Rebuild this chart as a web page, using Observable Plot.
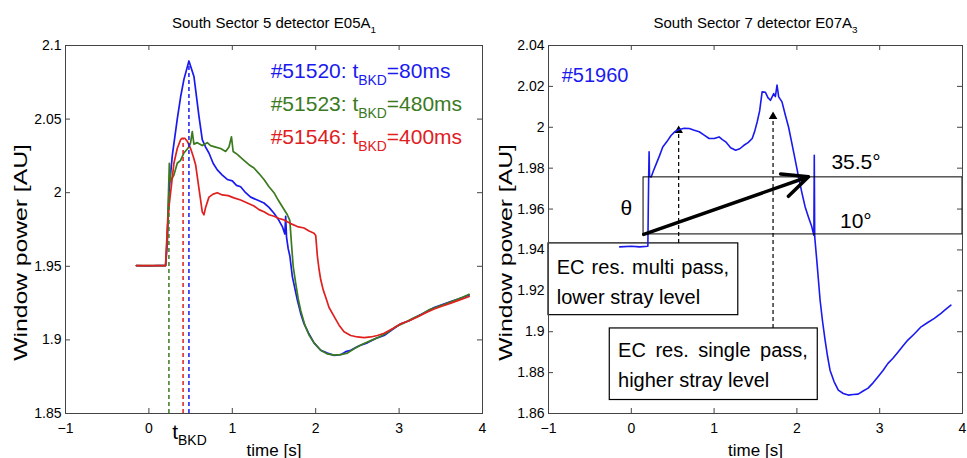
<!DOCTYPE html>
<html><head><meta charset="utf-8">
<script src="https://cdn.jsdelivr.net/npm/d3@7"></script>
<script src="https://cdn.jsdelivr.net/npm/@observablehq/plot@0.6"></script>
<style>
body{margin:0;background:#fff;}
#wrap{display:flex;width:967px;height:458px;overflow:hidden;}
#wrap svg{flex:none;}
</style></head><body><div id="wrap"></div>
<script>
// ---------- data ----------
const xTicks = [-1, 0, 1, 2, 3, 4];
const yTicksL = [1.85, 1.9, 1.95, 2, 2.05, 2.1];
const yTicksR = [1.86, 1.88, 1.9, 1.92, 1.94, 1.96, 1.98, 2, 2.02, 2.04];

const titleL = "South Sector 5 detector E05A_{1}";
const titleR = "South Sector 7 detector E07A_{3}";
const yLabel = "Window power [AU]";
const xLabel = "time [s]";

// #51520 (blue)
const blueT = [-0.15,0.0,0.1,0.2,0.22,0.24,0.28,0.34,0.38,0.42,0.48,0.54,0.60,0.64,0.68,0.72,0.77,0.82,0.88,0.94,1.00,1.05,1.10,1.16,1.22,1.30,1.38,1.44,1.50,1.55,1.60,1.63,1.64,1.65,1.67,1.69,1.72,1.75,1.78,1.82,1.86,1.92,1.98,2.06,2.14,2.22,2.30,2.36,2.42,2.52,2.62,2.72,2.82,2.92,3.02,3.12,3.22,3.32,3.42,3.52,3.62,3.72,3.84];
const blueV = [1.9505,1.9502,1.9505,1.9505,1.965,2.0,2.025,2.05,2.065,2.077,2.0895,2.079,2.052,2.036,2.031,2.027,2.02,2.0155,2.012,2.009,2.008,2.005,2.004,2.0,1.997,1.995,1.993,1.99,1.986,1.982,1.977,1.972,1.984,1.97,1.962,1.957,1.943,1.935,1.927,1.918,1.911,1.904,1.898,1.893,1.891,1.8895,1.89,1.892,1.893,1.896,1.898,1.901,1.903,1.907,1.911,1.913,1.916,1.919,1.922,1.924,1.926,1.928,1.9305];
// #51523 (green)
const greenT = [-0.15,0.2,0.22,0.235,0.245,0.26,0.30,0.34,0.38,0.42,0.48,0.50,0.52,0.54,0.58,0.64,0.70,0.74,0.80,0.86,0.92,0.96,0.99,1.01,1.06,1.14,1.20,1.26,1.32,1.38,1.44,1.50,1.55,1.60,1.66,1.69,1.71,1.73,1.76,1.79,1.82,1.87,1.92,1.98,2.06,2.14,2.22,2.30,2.38,2.46,2.56,2.66,2.76,2.86,2.96,3.06,3.16,3.26,3.36,3.46,3.56,3.66,3.76,3.84];
const greenV = [1.9505,1.9505,1.97,2.0,2.02,2.008,2.012,2.02,2.022,2.027,2.031,2.034,2.0415,2.033,2.034,2.032,2.034,2.032,2.031,2.03,2.028,2.031,2.038,2.028,2.026,2.022,2.019,2.0168,2.013,2.009,2.004,2.0,1.995,1.9905,1.985,1.981,1.965,1.95,1.9386,1.928,1.92,1.91,1.9033,1.898,1.893,1.8905,1.8897,1.89,1.891,1.894,1.897,1.8995,1.902,1.905,1.909,1.9115,1.9145,1.917,1.9205,1.9225,1.9245,1.9268,1.929,1.931];
// #51546 (red)
const redT = [-0.15,0.2,0.22,0.24,0.27,0.30,0.34,0.38,0.40,0.43,0.46,0.50,0.53,0.56,0.60,0.64,0.66,0.68,0.72,0.77,0.82,0.88,0.95,1.02,1.10,1.18,1.26,1.32,1.38,1.44,1.50,1.56,1.62,1.70,1.78,1.86,1.92,1.98,2.0,2.02,2.04,2.06,2.09,2.12,2.16,2.22,2.28,2.34,2.42,2.50,2.58,2.66,2.74,2.82,2.92,3.02,3.12,3.22,3.32,3.42,3.52,3.62,3.72,3.84];
const redV = [1.9505,1.9505,1.975,1.99,2.005,2.02,2.03,2.036,2.037,2.037,2.035,2.03,2.025,2.019,2.003,1.987,1.985,1.99,1.997,1.999,2.0,1.9985,1.998,1.9965,1.995,1.993,1.991,1.9885,1.987,1.985,1.984,1.9825,1.9815,1.979,1.977,1.976,1.974,1.9725,1.971,1.957,1.948,1.941,1.934,1.929,1.922,1.916,1.91,1.9055,1.903,1.902,1.9015,1.902,1.903,1.9045,1.9075,1.911,1.913,1.9155,1.9185,1.921,1.923,1.925,1.927,1.9295];

const legendText = ["#51520: t_{BKD}=80ms", "#51523: t_{BKD}=480ms", "#51546: t_{BKD}=400ms"];
const legendX = [1.46, 1.46, 1.46];
const legendY = [2.0781, 2.0557, 2.0332];

// breakdown times (dashed markers)
const bkdT = [0.24, 0.41, 0.48];
const bkdTop = [2.0, 2.036, 2.088];

// #51960 (right panel)
const r60T = [-0.14,0.0,0.1,0.2,0.205,0.21,0.215,0.22,0.24,0.27,0.30,0.34,0.38,0.43,0.48,0.53,0.58,0.64,0.70,0.76,0.82,0.88,0.94,1.00,1.06,1.10,1.14,1.20,1.26,1.31,1.36,1.41,1.46,1.49,1.52,1.55,1.58,1.62,1.65,1.68,1.72,1.74,1.76,1.78,1.82,1.86,1.90,1.94,1.98,2.02,2.06,2.10,2.14,2.18,2.205,2.21,2.215,2.24,2.28,2.31,2.34,2.37,2.40,2.45,2.50,2.56,2.62,2.68,2.74,2.80,2.86,2.92,2.98,3.04,3.10,3.16,3.22,3.28,3.34,3.42,3.50,3.58,3.66,3.74,3.80,3.86];
const r60V = [1.9415,1.9418,1.9415,1.9418,1.96,1.976,1.988,1.976,1.9757,1.979,1.982,1.986,1.9904,1.993,1.996,1.998,1.9989,1.9995,1.9994,1.9985,1.9978,1.9962,1.9945,1.9945,1.9953,1.994,1.9929,1.99,1.9888,1.9895,1.9912,1.9925,1.9945,1.998,2.0026,2.008,2.0173,2.0171,2.0145,2.0132,2.0165,2.015,2.0206,2.0149,2.0124,2.006,2.0,1.992,1.9839,1.9757,1.968,1.961,1.956,1.9513,1.9472,1.9863,1.9465,1.935,1.9155,1.905,1.896,1.888,1.8812,1.8755,1.8714,1.8698,1.869,1.8693,1.8695,1.871,1.8724,1.875,1.878,1.881,1.8845,1.887,1.89,1.893,1.8959,1.899,1.9024,1.9045,1.9065,1.909,1.911,1.913];

// annotations (right panel)
const boxText = ["EC res. multi pass,\nlower stray level", "EC res. single pass,\nhigher stray level"];
const boxX1 = [-1, -0.26], boxX2 = [1.292, 2.252];
const boxY1 = [1.9081, 1.8666], boxY2 = [1.9432, 1.9016];
const boxTextX = [-0.9, -0.16], boxTextY = [1.9138, 1.8731];
const passT = [0.572, 1.712], passBottom = [1.9432, 1.9016], passTop = [1.9999, 2.0067];
const angleBox = {x1: 0.148, x2: 4, y1: 1.9476, y2: 1.9755};
const angleArrow = {x1: 0.15, y1: 1.9476, x2: 2.14, y2: 1.9758};
const angleLabels = ["35.5°", "10°"], angleLabelX = [2.417, 2.52], angleLabelY = [1.9794, 1.9508];
const thetaLabel = {t: -0.06, v: 1.9604, text: "θ"};
const shotLabel = {t: -0.84, v: 2.0222, text: "#51960"};

// ---------- helpers ----------
const font = "'Liberation Sans', Arial, Helvetica, sans-serif";
const BLUE = "#1a1aef", GREEN = "#3b7a1e", RED = "#e0201e";
const fmt = d => String(+(+d).toFixed(2)).replace("-", "\u2212");
const tbl = (T, V) => T.map((t, i) => ({t, v: V[i]}));
const frameColor = "#444";

function commonMarks(yTicks, fw, fh) {
  return [
    Plot.axisX(xTicks, {tickSize: 0, tickPadding: 10, fontSize: 14, tickFormat: fmt, label: null}),
    Plot.axisY(yTicks, {tickSize: 0, tickPadding: 4, fontSize: 14, tickFormat: fmt, label: null}),
    Plot.ruleX(xTicks.slice(1, -1), {x: d => d, insetTop: fh - 5, stroke: frameColor}),
    Plot.ruleX(xTicks.slice(1, -1), {x: d => d, insetBottom: fh - 5, stroke: frameColor}),
    Plot.ruleY(yTicks.slice(1, -1), {y: d => d, insetRight: fw - 5, stroke: frameColor}),
    Plot.ruleY(yTicks.slice(1, -1), {y: d => d, insetLeft: fw - 5, stroke: frameColor}),
  ];
}

// ---------- left chart ----------
const L = {w: 490, h: 458, ml: 65, mr: 8, mt: 45, mb: 45};
const lfw = L.w - L.ml - L.mr, lfh = L.h - L.mt - L.mb;
const left = Plot.plot({
  width: L.w, height: L.h, marginLeft: L.ml, marginRight: L.mr, marginTop: L.mt, marginBottom: L.mb,
  style: {fontFamily: font, fontSize: "14px", background: "white", color: "black", overflow: "visible"},
  x: {domain: [-1, 4], label: null},
  y: {domain: [1.85, 2.1], label: null},
  marks: [
    ...commonMarks(yTicksL, lfw, lfh),
    Plot.line(tbl(blueT, blueV), {x: "t", y: "v", stroke: BLUE, strokeWidth: 1.7}),
    Plot.line(tbl(greenT, greenV), {x: "t", y: "v", stroke: GREEN, strokeWidth: 1.7}),
    Plot.line(tbl(redT, redV), {x: "t", y: "v", stroke: RED, strokeWidth: 1.7}),
    Plot.ruleX([0], {x: () => bkdT[0], y1: 1.85, y2: () => bkdTop[0], stroke: GREEN, strokeWidth: 1.5, strokeDasharray: "4,3"}),
    Plot.ruleX([0], {x: () => bkdT[1], y1: 1.85, y2: () => bkdTop[1], stroke: RED, strokeWidth: 1.5, strokeDasharray: "4,3"}),
    Plot.ruleX([0], {x: () => bkdT[2], y1: 1.85, y2: () => bkdTop[2], stroke: BLUE, strokeWidth: 1.5, strokeDasharray: "4,3"}),
    Plot.text(legendText, {x: (d, i) => legendX[i], y: (d, i) => legendY[i], text: d => d,
      fill: (d, i) => [BLUE, GREEN, RED][i], textAnchor: "start", lineAnchor: "bottom", fontSize: 21}),
    Plot.text(["t_{BKD}"], {x: () => 0.28, y: () => 1.85, textAnchor: "start", lineAnchor: "bottom", dy: 25, fontSize: 21}),
    Plot.text([titleL], {frameAnchor: "top", dy: -18, lineAnchor: "bottom", fontSize: 15}),
    Plot.text([xLabel], {frameAnchor: "bottom", dy: 42, lineAnchor: "bottom", fontSize: 17}),
    Plot.text([yLabel], {frameAnchor: "left", textAnchor: "middle", rotate: -90, dx: -45, dy: 23, fontSize: 19}),
    Plot.frame({stroke: frameColor})
  ]
});

// ---------- right chart ----------
const R = {w: 477, h: 458, ml: 58, mr: 5, mt: 45, mb: 45};
const rfw = R.w - R.ml - R.mr, rfh = R.h - R.mt - R.mb;
const right = Plot.plot({
  width: R.w, height: R.h, marginLeft: R.ml, marginRight: R.mr, marginTop: R.mt, marginBottom: R.mb,
  style: {fontFamily: font, fontSize: "14px", background: "white", color: "black", overflow: "visible"},
  x: {domain: [-1, 4], label: null},
  y: {domain: [1.86, 2.04], label: null},
  marks: [
    ...commonMarks(yTicksR, rfw, rfh),
    Plot.ruleX(passT, {x: d => d, y1: (d, i) => passBottom[i], y2: (d, i) => passTop[i], stroke: "black", strokeWidth: 1.2, strokeDasharray: "4,3"}),
    Plot.dot(passT, {x: d => d, y: (d, i) => passTop[i], symbol: "triangle", r: 3.2, fill: "black", dy: 3}),
    Plot.rect(boxText, {x1: (d, i) => boxX1[i], x2: (d, i) => boxX2[i], y1: (d, i) => boxY1[i], y2: (d, i) => boxY2[i], fill: "white", stroke: "black", strokeWidth: 1.2}),
    Plot.line(tbl(r60T, r60V), {x: "t", y: "v", stroke: BLUE, strokeWidth: 1.6}),
    Plot.rect([angleBox], {x1: "x1", x2: "x2", y1: "y1", y2: "y2", fill: "none", stroke: "black", strokeWidth: 1}),
    Plot.arrow([angleArrow], {x1: "x1", y1: "y1", x2: "x2", y2: "y2", stroke: "black", strokeWidth: 3.5, headLength: 12, headAngle: 50}),
    Plot.text(boxText, {x: (d, i) => boxTextX[i], y: (d, i) => boxTextY[i], text: d => d, textAnchor: "start", lineAnchor: "bottom", lineHeight: 1.5, fontSize: 20}),
    Plot.text(angleLabels, {x: (d, i) => angleLabelX[i], y: (d, i) => angleLabelY[i], text: d => d, textAnchor: "start", lineAnchor: "bottom", fontSize: 21}),
    Plot.text([thetaLabel], {x: "t", y: "v", text: "text", fontSize: 21}),
    Plot.text([shotLabel], {x: "t", y: "v", text: "text", fill: BLUE, textAnchor: "start", lineAnchor: "bottom", fontSize: 20}),
    Plot.text([titleR], {frameAnchor: "top", dy: -18, lineAnchor: "bottom", fontSize: 15}),
    Plot.text([xLabel], {frameAnchor: "bottom", dy: 42, lineAnchor: "bottom", fontSize: 17}),
    Plot.text([yLabel], {frameAnchor: "left", textAnchor: "middle", rotate: -90, dx: -43, dy: 23, fontSize: 19}),
    Plot.frame({stroke: frameColor})
  ]
});

const wrap = document.getElementById("wrap");
wrap.appendChild(left);
wrap.appendChild(right);

// ---------- subscripts & text tweaks ----------
function postProcess(svg) {
  d3.select(svg).selectAll("text").each(function() {
    const el = this;
    if (el.children.length) return;
    const s = el.textContent;
    if (s === yLabel) {
      // stretch along the reading direction to match the reference's tall label
      const t = el.getAttribute("transform");
      if (t) el.setAttribute("transform", t + " scale(1.3,1)");
      return;
    }
    if (!s.includes("_{")) return;
    const fs = parseFloat(getComputedStyle(el).fontSize) || 14;
    const parts = s.split(/_\{([^}]*)\}/);
    el.textContent = "";
    const ns = "http://www.w3.org/2000/svg";
    const shift = fs * 0.33;
    parts.forEach((p, i) => {
      if (!p) return;
      const ts = document.createElementNS(ns, "tspan");
      ts.textContent = p;
      if (i % 2 === 1) {
        ts.setAttribute("font-size", (fs * 0.66).toFixed(1) + "px");
        ts.setAttribute("dy", shift.toFixed(1));
      } else if (i > 0) {
        ts.setAttribute("dy", (-shift).toFixed(1));
      }
      el.appendChild(ts);
    });
  });
  d3.select(svg).selectAll("tspan").each(function() {
    const s = this.textContent;
    if (s.startsWith("EC res. single")) this.style.wordSpacing = "4px";
    else if (s.startsWith("EC res. multi")) this.style.wordSpacing = "1.5px";
  });
}
postProcess(left);
postProcess(right);
</script>
</body></html>
